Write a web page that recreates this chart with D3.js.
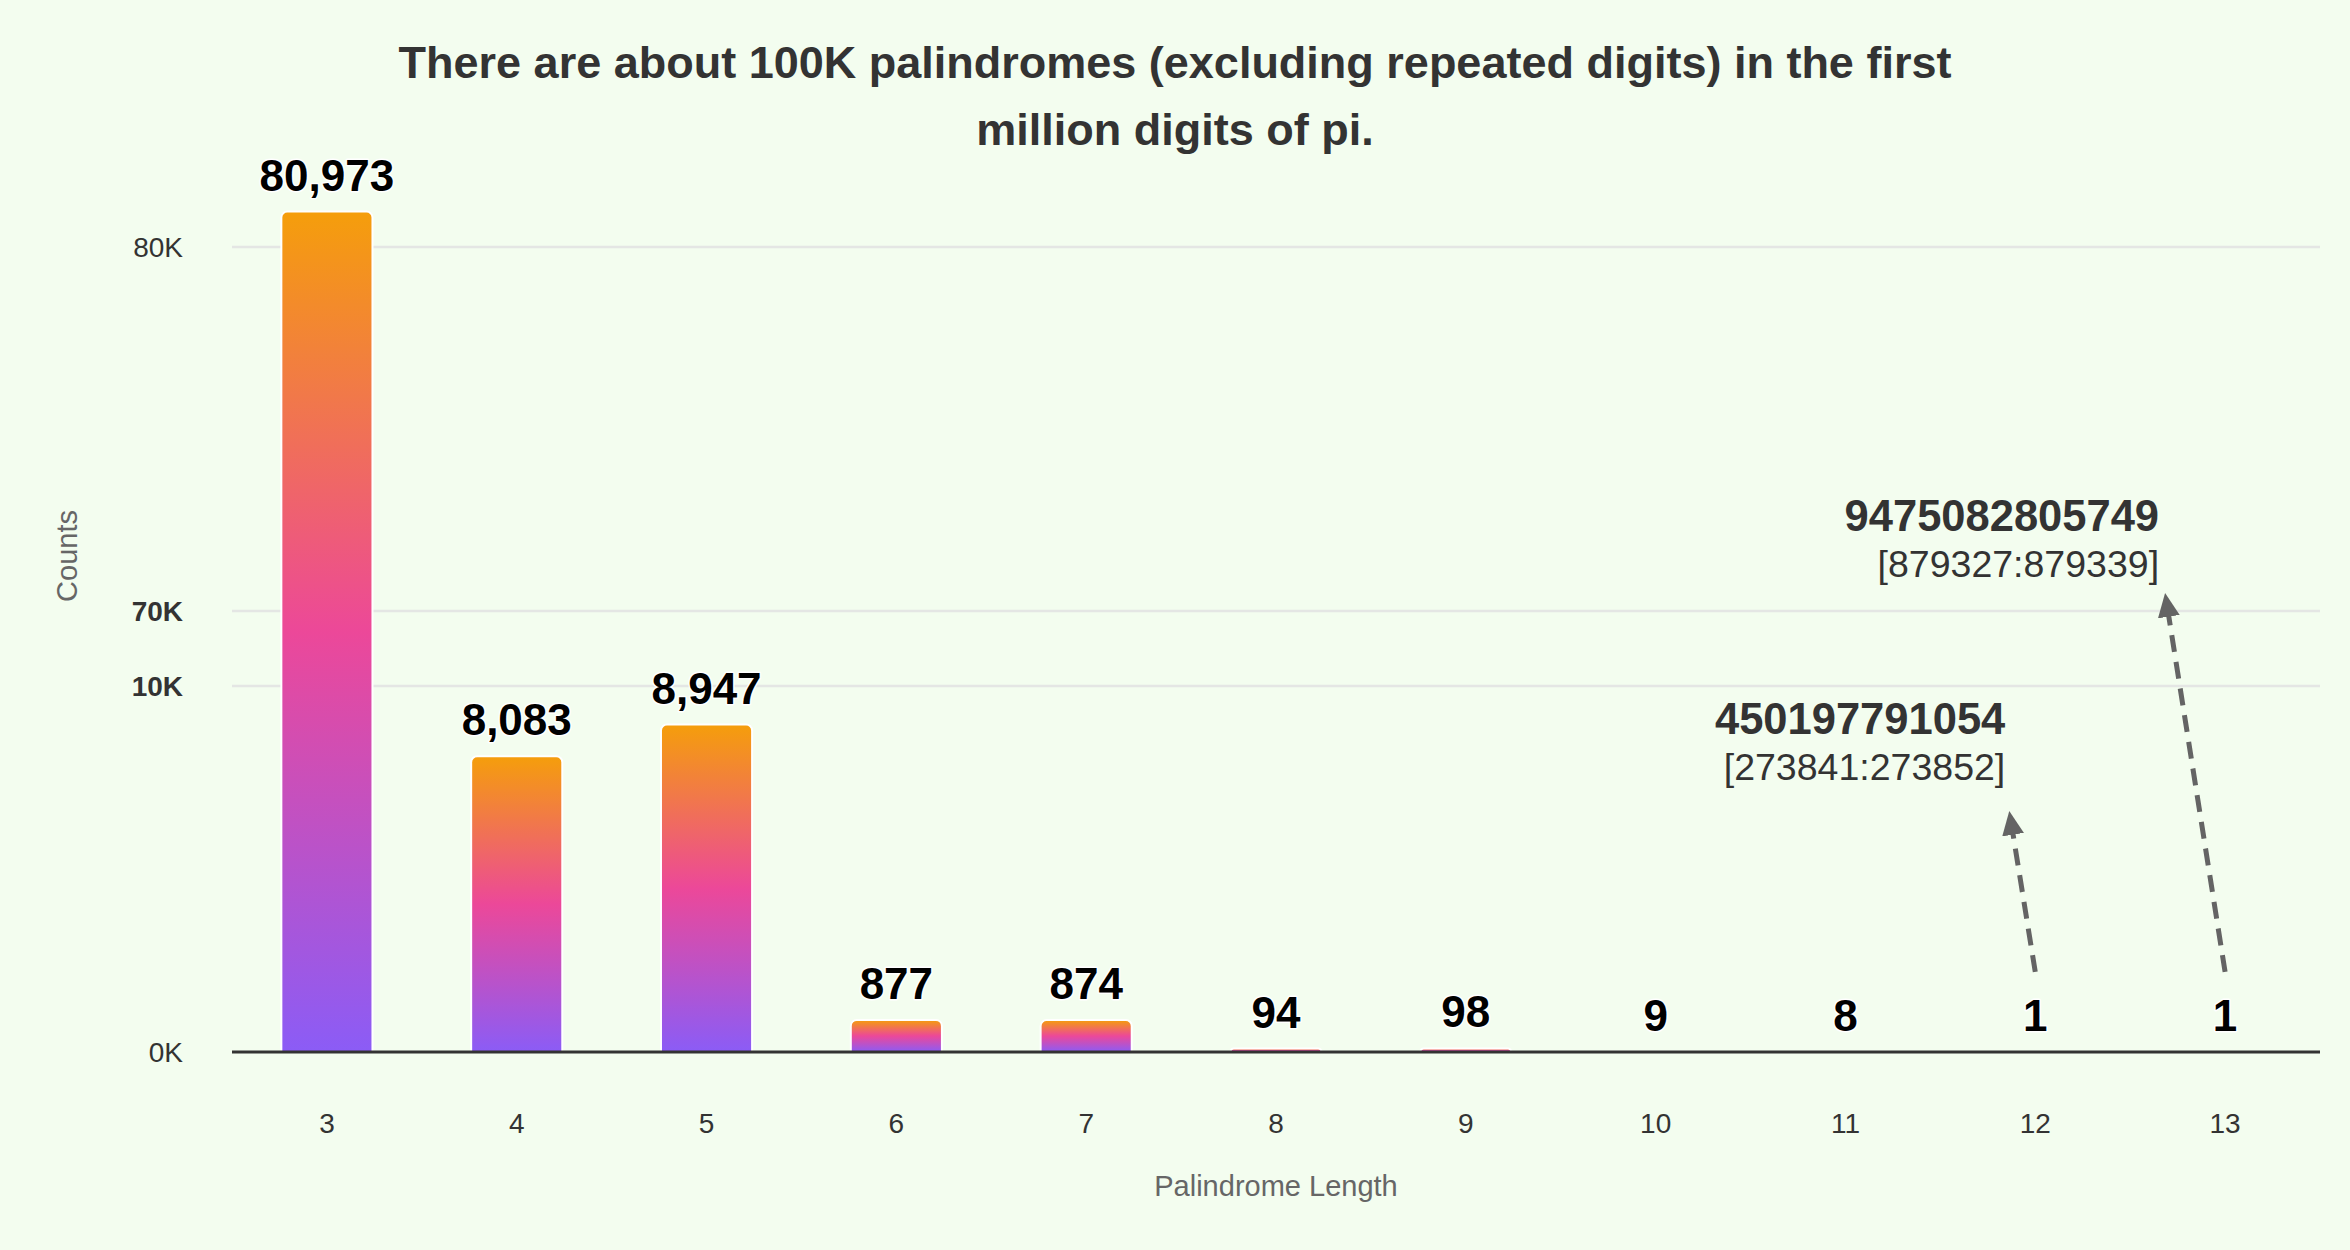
<!DOCTYPE html>
<html>
<head>
<meta charset="utf-8">
<script src="https://cdn.jsdelivr.net/npm/d3@7"></script>
<style>
    body { margin: 0; background: #f3fdef; }
    text { font-family: "Liberation Sans", Arial, Helvetica, sans-serif; }
</style>
</head>
<body>
<div id="chart-area"></div>
<script>
// data
const lengths = [3, 4, 5, 6, 7, 8, 9, 10, 11, 12, 13];
const counts = [80973, 8083, 8947, 877, 874, 94, 98, 9, 8, 1, 1];

// broken y axis: 0-10K then 70K-80K
const yTickValues = [0, 10000, 70000, 80000];
const yTickLabels = ["0K", "10K", "70K", "80K"];
const breakTicks = [10000, 70000];

// the two single palindromes that get an arrow
const annoLengths = [12, 13];
const annoPalindromes = ["450197791054", "9475082805749"];
const annoRanges = ["[273841:273852]", "[879327:879339]"];

const width = 2350;
const height = 1250;
const left = 232, right = 2320;

const svg = d3.select("#chart-area")
    .append("svg")
    .attr("width", width)
    .attr("height", height)
    .style("display", "block")
    .style("background", "#f3fdef");

const x = d3.scaleBand()
    .domain(lengths)
    .range([left, right])
    .paddingInner(0.52)
    .paddingOuter(0.26);

const y = d3.scaleLinear()
    .domain([0, 10000, 70000, 80000])
    .range([1052, 686, 611, 247]);

// gradient per bar
const grad = svg.append("defs").append("linearGradient")
    .attr("id", "barGrad")
    .attr("x1", 0).attr("y1", 0).attr("x2", 0).attr("y2", 1);
grad.append("stop").attr("offset", "0%").attr("stop-color", "#f59e0b");
grad.append("stop").attr("offset", "50%").attr("stop-color", "#ec4899");
grad.append("stop").attr("offset", "100%").attr("stop-color", "#8b5cf6");

svg.select("defs").append("marker")
    .attr("id", "arrowHead")
    .attr("markerUnits", "userSpaceOnUse")
    .attr("viewBox", "0 -11 24 22")
    .attr("refX", 12)
    .attr("refY", 0)
    .attr("markerWidth", 24)
    .attr("markerHeight", 22)
    .attr("orient", "auto")
    .append("path")
    .attr("d", "M0,-11L24,0L0,11Z")
    .attr("fill", "#646464");

// title
svg.append("text")
    .attr("x", width / 2)
    .attr("text-anchor", "middle")
    .style("font-size", "45px")
    .style("font-weight", "bold")
    .style("fill", "#333")
    .selectAll("tspan")
    .data(["There are about 100K palindromes (excluding repeated digits) in the first", "million digits of pi."])
    .enter()
    .append("tspan")
    .attr("x", width / 2)
    .attr("y", (d, i) => 78 + i * 67)
    .text(d => d);

// gridlines (not at 0, the axis line goes there)
svg.append("g")
    .selectAll("line")
    .data(yTickValues.filter(d => d > 0))
    .enter()
    .append("line")
    .attr("x1", left).attr("x2", right)
    .attr("y1", d => y(d)).attr("y2", d => y(d))
    .attr("stroke", "#e4e6e4")
    .attr("stroke-width", 2.5);

// y axis
const yAxis = svg.append("g")
    .attr("transform", `translate(${left},0)`)
    .call(d3.axisLeft(y)
        .tickValues(yTickValues)
        .tickFormat((d, i) => yTickLabels[i])
        .tickSize(0)
        .tickPadding(49));
yAxis.select(".domain").remove();
yAxis.selectAll("text")
    .style("font-size", "28px")
    .style("fill", "#333")
    .style("font-weight", d => breakTicks.includes(d) ? "bold" : "normal")
    .attr("dy", "0.35em");

// x axis
const xAxis = svg.append("g")
    .attr("transform", `translate(0,${y(0)})`)
    .call(d3.axisBottom(x).tickSize(0).tickPadding(61));
xAxis.select(".domain").remove();
xAxis.selectAll("text")
    .style("font-size", "28px")
    .style("fill", "#333");

function barPath(x0, y0, w, h, r) {
    r = Math.min(r, h, w / 2);
    return `M${x0},${y0 + h}V${y0 + r}A${r},${r} 0 0 1 ${x0 + r},${y0}H${x0 + w - r}A${r},${r} 0 0 1 ${x0 + w},${y0 + r}V${y0 + h}Z`;
}

const bars = lengths.map((l, i) => ({ length: l, count: counts[i] }));

svg.append("g")
    .selectAll("path")
    .data(bars)
    .enter()
    .append("path")
    .attr("d", d => barPath(x(d.length), y(d.count), x.bandwidth(), y(0) - y(d.count), 6))
    .attr("fill", "url(#barGrad)")
    .attr("stroke", "#ffffff")
    .attr("stroke-width", 2);

// baseline
svg.append("line")
    .attr("x1", left).attr("x2", right)
    .attr("y1", y(0)).attr("y2", y(0))
    .attr("stroke", "#333")
    .attr("stroke-width", 3);

// bar labels
svg.append("g")
    .selectAll("text")
    .data(bars)
    .enter()
    .append("text")
    .attr("x", d => x(d.length) + x.bandwidth() / 2)
    .attr("y", d => y(d.count) - 21)
    .attr("text-anchor", "middle")
    .style("font-size", "44px")
    .style("font-weight", "bold")
    .style("fill", "#000")
    .style("stroke", "#ffffff")
    .style("stroke-width", 3)
    .style("stroke-linejoin", "round")
    .style("paint-order", "stroke")
    .text(d => d3.format(",")(d.count));

// annotations: arrow from above the "1" label up to the palindrome text
const annoOffsets = [
    { ax: -26, ay: -161, tx: -4, ty1: -77, ty2: -31 },
    { ax: -60, ay: -379, tx: -6, ty1: -62, ty2: -16 }
];

annoLengths.forEach((l, i) => {
    const o = annoOffsets[i];
    const x0 = x(l) + x.bandwidth() / 2;
    const y0 = y(counts[lengths.indexOf(l)]) - 80;
    const x1 = x0 + o.ax, y1 = y0 + o.ay;
    const len = Math.hypot(o.ax, o.ay);
    // stop the dashes short of the tip, the marker covers the rest
    const k = (len - 12) / len;

    svg.append("line")
        .attr("x1", x0).attr("y1", y0)
        .attr("x2", x0 + o.ax * k).attr("y2", y0 + o.ay * k)
        .attr("stroke", "#646464")
        .attr("stroke-width", 5)
        .attr("stroke-dasharray", "17,10")
        .attr("marker-end", "url(#arrowHead)");

    svg.append("text")
        .attr("x", x1 + o.tx)
        .attr("y", y1 + o.ty1)
        .attr("text-anchor", "end")
        .style("font-size", "43.5px")
        .style("font-weight", "bold")
        .style("fill", "#333")
        .text(annoPalindromes[i]);

    svg.append("text")
        .attr("x", x1 + o.tx)
        .attr("y", y1 + o.ty2)
        .attr("text-anchor", "end")
        .style("font-size", "37.5px")
        .style("fill", "#333")
        .text(annoRanges[i]);
});

// axis titles
svg.append("text")
    .attr("x", (left + right) / 2)
    .attr("y", 1196)
    .attr("text-anchor", "middle")
    .style("font-size", "29px")
    .style("fill", "#666")
    .text("Palindrome Length");

svg.append("text")
    .attr("transform", "translate(77,556) rotate(-90)")
    .attr("text-anchor", "middle")
    .style("font-size", "29px")
    .style("fill", "#666")
    .text("Counts");
</script>
</body>
</html>
